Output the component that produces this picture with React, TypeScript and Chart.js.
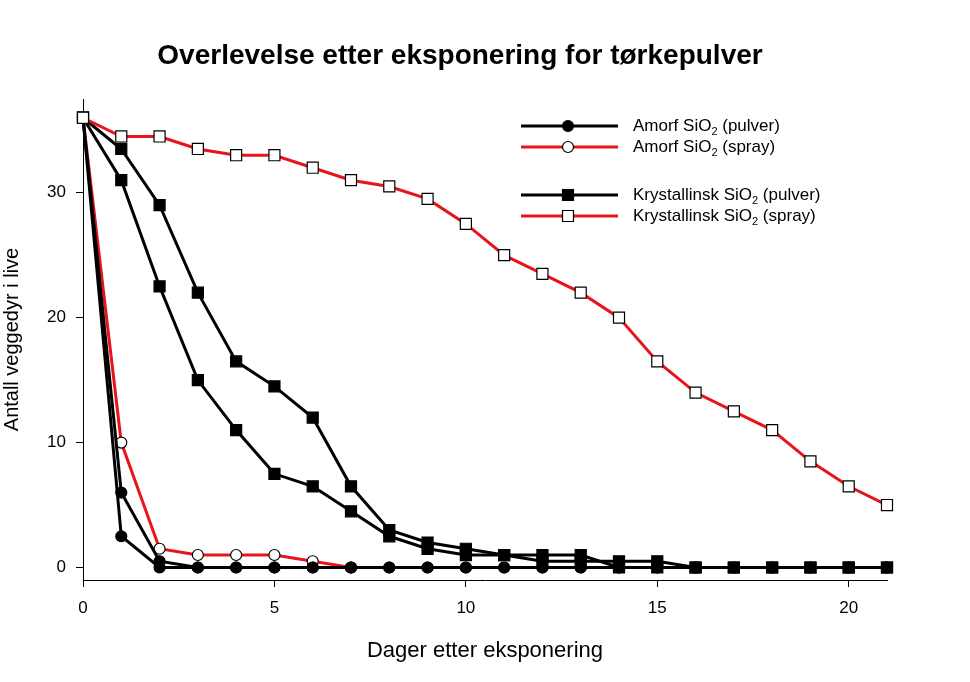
import React, { useEffect, useRef } from "react";
import { Chart, registerables } from "chart.js";

Chart.register(...registerables);

const titleText = "Overlevelse etter eksponering for tørkepulver";
const xTitle = "Dager etter eksponering";
const yTitle = "Antall veggedyr i live";

const days = [0, 1, 2, 3, 4, 5, 6, 7, 8, 9, 10, 11, 12, 13, 14, 15, 16, 17, 18, 19, 20, 21];
const xTicks = [0, 5, 10, 15, 20];
const yTicks = [0, 10, 20, 30];

const amorfPulverA = [36, 6, 0.5, 0, 0, 0, 0, 0, 0, 0, 0, 0, 0, 0, 0, 0, 0, 0, 0, 0, 0, 0];
const amorfPulverB = [36, 2.5, 0, 0, 0, 0, 0, 0, 0, 0, 0, 0, 0, 0, 0, 0, 0, 0, 0, 0, 0, 0];
const amorfSpray = [36, 10, 1.5, 1, 1, 1, 0.5, 0];
const krystPulverA = [36, 33.5, 29, 22, 16.5, 14.5, 12, 6.5, 3, 2, 1.5, 1, 1, 1, 0, 0, 0, 0, 0, 0, 0, 0];
const krystPulverB = [36, 31, 22.5, 15, 11, 7.5, 6.5, 4.5, 2.5, 1.5, 1, 1, 0.5, 0.5, 0.5, 0.5, 0, 0, 0, 0, 0, 0];
const krystSpray = [36, 34.5, 34.5, 33.5, 33, 33, 32, 31, 30.5, 29.5, 27.5, 25, 23.5, 22, 20, 16.5, 14, 12.5, 11, 8.5, 6.5, 5];

const legendItems = [
  { parts: ["Amorf SiO", "2", " (pulver)"], color: "#000000", style: "circle", fill: "#000000" },
  { parts: ["Amorf SiO", "2", " (spray)"], color: "#e8141c", style: "circle", fill: "#ffffff" },
  { parts: ["Krystallinsk SiO", "2", " (pulver)"], color: "#000000", style: "rect", fill: "#000000" },
  { parts: ["Krystallinsk SiO", "2", " (spray)"], color: "#e8141c", style: "rect", fill: "#ffffff" },
];

const FONT = "'Liberation Sans', Arial, sans-serif";
const RED = "#e8141c";

const toPts = (vals: number[]) => vals.map((v, i) => ({ x: days[i], y: v }));

const titlePlugin = {
  id: "customTitle",
  afterDraw(chart: any) {
    const ctx = chart.ctx;
    ctx.save();
    ctx.fillStyle = "#000";
    ctx.font = `bold 28px ${FONT}`;
    ctx.textAlign = "center";
    ctx.textBaseline = "middle";
    ctx.fillText(titleText, 460, 56);
    ctx.restore();
  },
};

const legendPlugin = {
  id: "customLegend",
  afterDraw(chart: any) {
    const ctx = chart.ctx;
    const rows = [126, 147, 195, 216];
    const x0 = 521;
    const x1 = 618;
    const xm = 568;
    const tx = 633;
    ctx.save();
    legendItems.forEach((item, i) => {
      const y = rows[i];
      ctx.strokeStyle = item.color;
      ctx.lineWidth = 3;
      ctx.beginPath();
      ctx.moveTo(x0, y);
      ctx.lineTo(x1, y);
      ctx.stroke();
      ctx.fillStyle = item.fill;
      ctx.strokeStyle = "#000";
      ctx.lineWidth = 1.2;
      ctx.beginPath();
      if (item.style === "circle") {
        ctx.arc(xm, y, 5.5, 0, Math.PI * 2);
      } else {
        ctx.rect(xm - 5.5, y - 5.5, 11, 11);
      }
      ctx.fill();
      ctx.stroke();
      ctx.fillStyle = "#000";
      ctx.textAlign = "left";
      ctx.textBaseline = "middle";
      let x = tx;
      ctx.font = `17px ${FONT}`;
      ctx.fillText(item.parts[0], x, y);
      x += ctx.measureText(item.parts[0]).width;
      ctx.font = `11px ${FONT}`;
      ctx.fillText(item.parts[1], x, y + 6);
      x += ctx.measureText(item.parts[1]).width;
      ctx.font = `17px ${FONT}`;
      ctx.fillText(item.parts[2], x, y);
    });
    ctx.restore();
  },
};

export default function App() {
  const ref = useRef<HTMLCanvasElement | null>(null);

  useEffect(() => {
    if (!ref.current) return;
    const line = (data: number[], color: string, pointStyle: string, fill: string, radius: number) => ({
      data: toPts(data),
      borderColor: color,
      backgroundColor: fill,
      borderWidth: 3,
      pointStyle,
      pointRadius: radius,
      pointBackgroundColor: fill,
      pointBorderColor: "#000",
      pointBorderWidth: 1.2,
      tension: 0,
      clip: false as any,
    });
    const chart = new Chart(ref.current, {
      type: "line",
      data: {
        datasets: [
          line(krystSpray, RED, "rect", "#ffffff", 7.8),
          line(krystPulverA, "#000", "rect", "#000", 7.8),
          line(krystPulverB, "#000", "rect", "#000", 7.8),
          line(amorfPulverA, "#000", "circle", "#000", 5.5),
          line(amorfPulverB, "#000", "circle", "#000", 5.5),
          line(amorfSpray, RED, "circle", "#ffffff", 5.5),
        ] as any,
      },
      options: {
        responsive: false,
        animation: false,
        layout: { padding: { top: 99, right: 83, bottom: 0, left: 0 } },
        plugins: { legend: { display: false }, tooltip: { enabled: false }, title: { display: false } },
        scales: {
          x: {
            type: "linear",
            min: 0,
            max: 21,
            afterFit: (s: any) => { s.height = 102; },
            afterBuildTicks: (s: any) => { s.ticks = xTicks.map((v) => ({ value: v })); },
            grid: { drawOnChartArea: false, drawTicks: true, tickLength: 7, color: "#000", lineWidth: 1 },
            border: { color: "#000", width: 1 },
            ticks: { color: "#000", font: { family: FONT, size: 17 }, padding: 11, maxRotation: 0 },
            title: { display: true, text: xTitle, color: "#000", font: { family: FONT, size: 22 }, padding: { top: 0, bottom: 18 } },
          },
          y: {
            type: "linear",
            min: -1,
            max: 37.5,
            afterFit: (s: any) => { s.width = 83; },
            afterBuildTicks: (s: any) => { s.ticks = yTicks.map((v) => ({ value: v })); },
            grid: { drawOnChartArea: false, drawTicks: true, tickLength: 7, color: "#000", lineWidth: 1 },
            border: { color: "#000", width: 1 },
            ticks: { color: "#000", font: { family: FONT, size: 17 }, padding: 10 },
            title: { display: true, text: yTitle, color: "#000", font: { family: FONT, size: 20 }, padding: { top: 0, bottom: 0 } },
          },
        },
      },
      plugins: [titlePlugin, legendPlugin],
    } as any);
    return () => chart.destroy();
  }, []);

  return (
    <canvas
      ref={ref}
      width={970}
      height={682}
      style={{ position: "absolute", left: 0, top: 0, width: 970, height: 682, background: "#fff" }}
    />
  );
}
